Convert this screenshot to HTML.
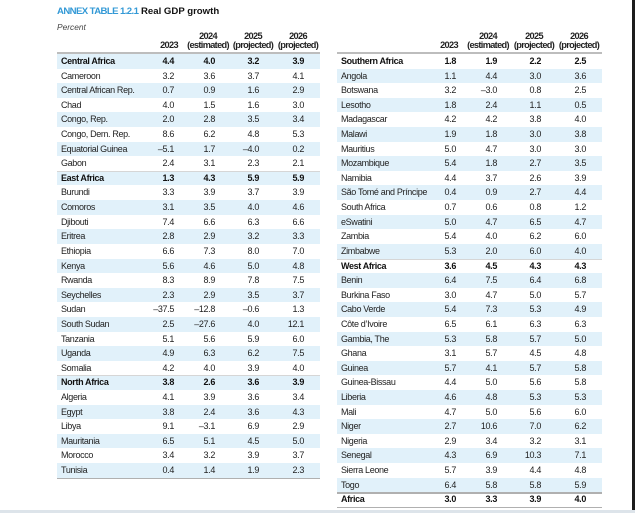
<!DOCTYPE html>
<html>
<head>
<meta charset="utf-8">
<style>
html,body{margin:0;padding:0;background:#fff;}
body{width:635px;height:513px;position:relative;overflow:hidden;font-family:"Liberation Sans",Arial,sans-serif;color:#222;}
.title{position:absolute;left:57px;top:6px;font-size:9.6px;font-weight:bold;line-height:12px;white-space:nowrap;}
.title .a{color:#3399d6;letter-spacing:-0.6px;}
.title .b{color:#111;letter-spacing:0px;}
.pct{position:absolute;left:57px;top:22px;font-size:8.4px;font-style:italic;color:#444;line-height:10px;}
.hdr{position:absolute;top:32px;width:50px;text-align:center;font-size:9.2px;font-weight:bold;line-height:9px;letter-spacing:-0.65px;color:#222;white-space:nowrap;}
.hline{position:absolute;top:52px;height:2px;background:#bdbdbd;}
.tbl{position:absolute;top:54px;}
.row{position:relative;height:14.62px;line-height:14.62px;font-size:9px;letter-spacing:-0.35px;white-space:nowrap;}
.row.s{background:#e1f1fa;}
.row.g{font-weight:bold;color:#111;box-shadow:inset 0 1px 0 #d6d6d6;}
.row.g0{font-weight:bold;color:#111;}
.row span{position:absolute;top:0;}
.row .l{left:4px;}
.row .c1{right:146px;}
.row .c2{right:105px;}
.row .c3{right:61px;}
.row .c4{right:16px;}
.bline{position:absolute;height:1.5px;background:#b0b0b0;}
.edge{position:absolute;left:632px;top:0;width:3px;height:510px;background:#1c1c1c;}
.band{position:absolute;left:0;top:510px;width:635px;height:3px;background:#dde4ea;}
</style>
</head>
<body>
<div class="title"><span class="a">ANNEX TABLE 1.2.1</span> <span class="b">Real GDP growth</span></div>
<div class="pct">Percent</div>

<div class="hdr" style="left:144px;"><br>2023</div>
<div class="hdr" style="left:183px;">2024<br>(estimated)</div>
<div class="hdr" style="left:228px;">2025<br>(projected)</div>
<div class="hdr" style="left:273px;">2026<br>(projected)</div>
<div class="hline" style="left:57px;width:263px;"></div>

<div class="hdr" style="left:424px;"><br>2023</div>
<div class="hdr" style="left:463px;">2024<br>(estimated)</div>
<div class="hdr" style="left:509px;">2025<br>(projected)</div>
<div class="hdr" style="left:554px;">2026<br>(projected)</div>
<div class="hline" style="left:337px;width:265px;"></div>

<div class="tbl" style="left:57px;width:263px;">
<div class="row s g0"><span class="l">Central Africa</span><span class="c1">4.4</span><span class="c2">4.0</span><span class="c3">3.2</span><span class="c4">3.9</span></div>
<div class="row"><span class="l">Cameroon</span><span class="c1">3.2</span><span class="c2">3.6</span><span class="c3">3.7</span><span class="c4">4.1</span></div>
<div class="row s"><span class="l">Central African Rep.</span><span class="c1">0.7</span><span class="c2">0.9</span><span class="c3">1.6</span><span class="c4">2.9</span></div>
<div class="row"><span class="l">Chad</span><span class="c1">4.0</span><span class="c2">1.5</span><span class="c3">1.6</span><span class="c4">3.0</span></div>
<div class="row s"><span class="l">Congo, Rep.</span><span class="c1">2.0</span><span class="c2">2.8</span><span class="c3">3.5</span><span class="c4">3.4</span></div>
<div class="row"><span class="l">Congo, Dem. Rep.</span><span class="c1">8.6</span><span class="c2">6.2</span><span class="c3">4.8</span><span class="c4">5.3</span></div>
<div class="row s"><span class="l">Equatorial Guinea</span><span class="c1">–5.1</span><span class="c2">1.7</span><span class="c3">–4.0</span><span class="c4">0.2</span></div>
<div class="row"><span class="l">Gabon</span><span class="c1">2.4</span><span class="c2">3.1</span><span class="c3">2.3</span><span class="c4">2.1</span></div>
<div class="row s g"><span class="l">East Africa</span><span class="c1">1.3</span><span class="c2">4.3</span><span class="c3">5.9</span><span class="c4">5.9</span></div>
<div class="row"><span class="l">Burundi</span><span class="c1">3.3</span><span class="c2">3.9</span><span class="c3">3.7</span><span class="c4">3.9</span></div>
<div class="row s"><span class="l">Comoros</span><span class="c1">3.1</span><span class="c2">3.5</span><span class="c3">4.0</span><span class="c4">4.6</span></div>
<div class="row"><span class="l">Djibouti</span><span class="c1">7.4</span><span class="c2">6.6</span><span class="c3">6.3</span><span class="c4">6.6</span></div>
<div class="row s"><span class="l">Eritrea</span><span class="c1">2.8</span><span class="c2">2.9</span><span class="c3">3.2</span><span class="c4">3.3</span></div>
<div class="row"><span class="l">Ethiopia</span><span class="c1">6.6</span><span class="c2">7.3</span><span class="c3">8.0</span><span class="c4">7.0</span></div>
<div class="row s"><span class="l">Kenya</span><span class="c1">5.6</span><span class="c2">4.6</span><span class="c3">5.0</span><span class="c4">4.8</span></div>
<div class="row"><span class="l">Rwanda</span><span class="c1">8.3</span><span class="c2">8.9</span><span class="c3">7.8</span><span class="c4">7.5</span></div>
<div class="row s"><span class="l">Seychelles</span><span class="c1">2.3</span><span class="c2">2.9</span><span class="c3">3.5</span><span class="c4">3.7</span></div>
<div class="row"><span class="l">Sudan</span><span class="c1">–37.5</span><span class="c2">–12.8</span><span class="c3">–0.6</span><span class="c4">1.3</span></div>
<div class="row s"><span class="l">South Sudan</span><span class="c1">2.5</span><span class="c2">–27.6</span><span class="c3">4.0</span><span class="c4">12.1</span></div>
<div class="row"><span class="l">Tanzania</span><span class="c1">5.1</span><span class="c2">5.6</span><span class="c3">5.9</span><span class="c4">6.0</span></div>
<div class="row s"><span class="l">Uganda</span><span class="c1">4.9</span><span class="c2">6.3</span><span class="c3">6.2</span><span class="c4">7.5</span></div>
<div class="row"><span class="l">Somalia</span><span class="c1">4.2</span><span class="c2">4.0</span><span class="c3">3.9</span><span class="c4">4.0</span></div>
<div class="row s g"><span class="l">North Africa</span><span class="c1">3.8</span><span class="c2">2.6</span><span class="c3">3.6</span><span class="c4">3.9</span></div>
<div class="row"><span class="l">Algeria</span><span class="c1">4.1</span><span class="c2">3.9</span><span class="c3">3.6</span><span class="c4">3.4</span></div>
<div class="row s"><span class="l">Egypt</span><span class="c1">3.8</span><span class="c2">2.4</span><span class="c3">3.6</span><span class="c4">4.3</span></div>
<div class="row"><span class="l">Libya</span><span class="c1">9.1</span><span class="c2">–3.1</span><span class="c3">6.9</span><span class="c4">2.9</span></div>
<div class="row s"><span class="l">Mauritania</span><span class="c1">6.5</span><span class="c2">5.1</span><span class="c3">4.5</span><span class="c4">5.0</span></div>
<div class="row"><span class="l">Morocco</span><span class="c1">3.4</span><span class="c2">3.2</span><span class="c3">3.9</span><span class="c4">3.7</span></div>
<div class="row s"><span class="l">Tunisia</span><span class="c1">0.4</span><span class="c2">1.4</span><span class="c3">1.9</span><span class="c4">2.3</span></div>
</div>
<div class="bline" style="left:57px;width:263px;top:477.5px;"></div>

<div class="tbl" style="left:337px;width:265px;">
<div class="row g0"><span class="l">Southern Africa</span><span class="c1">1.8</span><span class="c2">1.9</span><span class="c3">2.2</span><span class="c4">2.5</span></div>
<div class="row s"><span class="l">Angola</span><span class="c1">1.1</span><span class="c2">4.4</span><span class="c3">3.0</span><span class="c4">3.6</span></div>
<div class="row"><span class="l">Botswana</span><span class="c1">3.2</span><span class="c2">–3.0</span><span class="c3">0.8</span><span class="c4">2.5</span></div>
<div class="row s"><span class="l">Lesotho</span><span class="c1">1.8</span><span class="c2">2.4</span><span class="c3">1.1</span><span class="c4">0.5</span></div>
<div class="row"><span class="l">Madagascar</span><span class="c1">4.2</span><span class="c2">4.2</span><span class="c3">3.8</span><span class="c4">4.0</span></div>
<div class="row s"><span class="l">Malawi</span><span class="c1">1.9</span><span class="c2">1.8</span><span class="c3">3.0</span><span class="c4">3.8</span></div>
<div class="row"><span class="l">Mauritius</span><span class="c1">5.0</span><span class="c2">4.7</span><span class="c3">3.0</span><span class="c4">3.0</span></div>
<div class="row s"><span class="l">Mozambique</span><span class="c1">5.4</span><span class="c2">1.8</span><span class="c3">2.7</span><span class="c4">3.5</span></div>
<div class="row"><span class="l">Namibia</span><span class="c1">4.4</span><span class="c2">3.7</span><span class="c3">2.6</span><span class="c4">3.9</span></div>
<div class="row s"><span class="l">São Tomé and Príncipe</span><span class="c1">0.4</span><span class="c2">0.9</span><span class="c3">2.7</span><span class="c4">4.4</span></div>
<div class="row"><span class="l">South Africa</span><span class="c1">0.7</span><span class="c2">0.6</span><span class="c3">0.8</span><span class="c4">1.2</span></div>
<div class="row s"><span class="l">eSwatini</span><span class="c1">5.0</span><span class="c2">4.7</span><span class="c3">6.5</span><span class="c4">4.7</span></div>
<div class="row"><span class="l">Zambia</span><span class="c1">5.4</span><span class="c2">4.0</span><span class="c3">6.2</span><span class="c4">6.0</span></div>
<div class="row s"><span class="l">Zimbabwe</span><span class="c1">5.3</span><span class="c2">2.0</span><span class="c3">6.0</span><span class="c4">4.0</span></div>
<div class="row g"><span class="l">West Africa</span><span class="c1">3.6</span><span class="c2">4.5</span><span class="c3">4.3</span><span class="c4">4.3</span></div>
<div class="row s"><span class="l">Benin</span><span class="c1">6.4</span><span class="c2">7.5</span><span class="c3">6.4</span><span class="c4">6.8</span></div>
<div class="row"><span class="l">Burkina Faso</span><span class="c1">3.0</span><span class="c2">4.7</span><span class="c3">5.0</span><span class="c4">5.7</span></div>
<div class="row s"><span class="l">Cabo Verde</span><span class="c1">5.4</span><span class="c2">7.3</span><span class="c3">5.3</span><span class="c4">4.9</span></div>
<div class="row"><span class="l">Côte d’Ivoire</span><span class="c1">6.5</span><span class="c2">6.1</span><span class="c3">6.3</span><span class="c4">6.3</span></div>
<div class="row s"><span class="l">Gambia, The</span><span class="c1">5.3</span><span class="c2">5.8</span><span class="c3">5.7</span><span class="c4">5.0</span></div>
<div class="row"><span class="l">Ghana</span><span class="c1">3.1</span><span class="c2">5.7</span><span class="c3">4.5</span><span class="c4">4.8</span></div>
<div class="row s"><span class="l">Guinea</span><span class="c1">5.7</span><span class="c2">4.1</span><span class="c3">5.7</span><span class="c4">5.8</span></div>
<div class="row"><span class="l">Guinea-Bissau</span><span class="c1">4.4</span><span class="c2">5.0</span><span class="c3">5.6</span><span class="c4">5.8</span></div>
<div class="row s"><span class="l">Liberia</span><span class="c1">4.6</span><span class="c2">4.8</span><span class="c3">5.3</span><span class="c4">5.3</span></div>
<div class="row"><span class="l">Mali</span><span class="c1">4.7</span><span class="c2">5.0</span><span class="c3">5.6</span><span class="c4">6.0</span></div>
<div class="row s"><span class="l">Niger</span><span class="c1">2.7</span><span class="c2">10.6</span><span class="c3">7.0</span><span class="c4">6.2</span></div>
<div class="row"><span class="l">Nigeria</span><span class="c1">2.9</span><span class="c2">3.4</span><span class="c3">3.2</span><span class="c4">3.1</span></div>
<div class="row s"><span class="l">Senegal</span><span class="c1">4.3</span><span class="c2">6.9</span><span class="c3">10.3</span><span class="c4">7.1</span></div>
<div class="row"><span class="l">Sierra Leone</span><span class="c1">5.7</span><span class="c2">3.9</span><span class="c3">4.4</span><span class="c4">4.8</span></div>
<div class="row s"><span class="l">Togo</span><span class="c1">6.4</span><span class="c2">5.8</span><span class="c3">5.8</span><span class="c4">5.9</span></div>
<div class="row g0"><span class="l">Africa</span><span class="c1">3.0</span><span class="c2">3.3</span><span class="c3">3.9</span><span class="c4">4.0</span></div>
</div>
<div class="bline" style="left:337px;width:265px;top:492px;"></div>
<div class="bline" style="left:337px;width:265px;top:506.5px;"></div>

<div class="edge"></div>
<div class="band"></div>
</body>
</html>
